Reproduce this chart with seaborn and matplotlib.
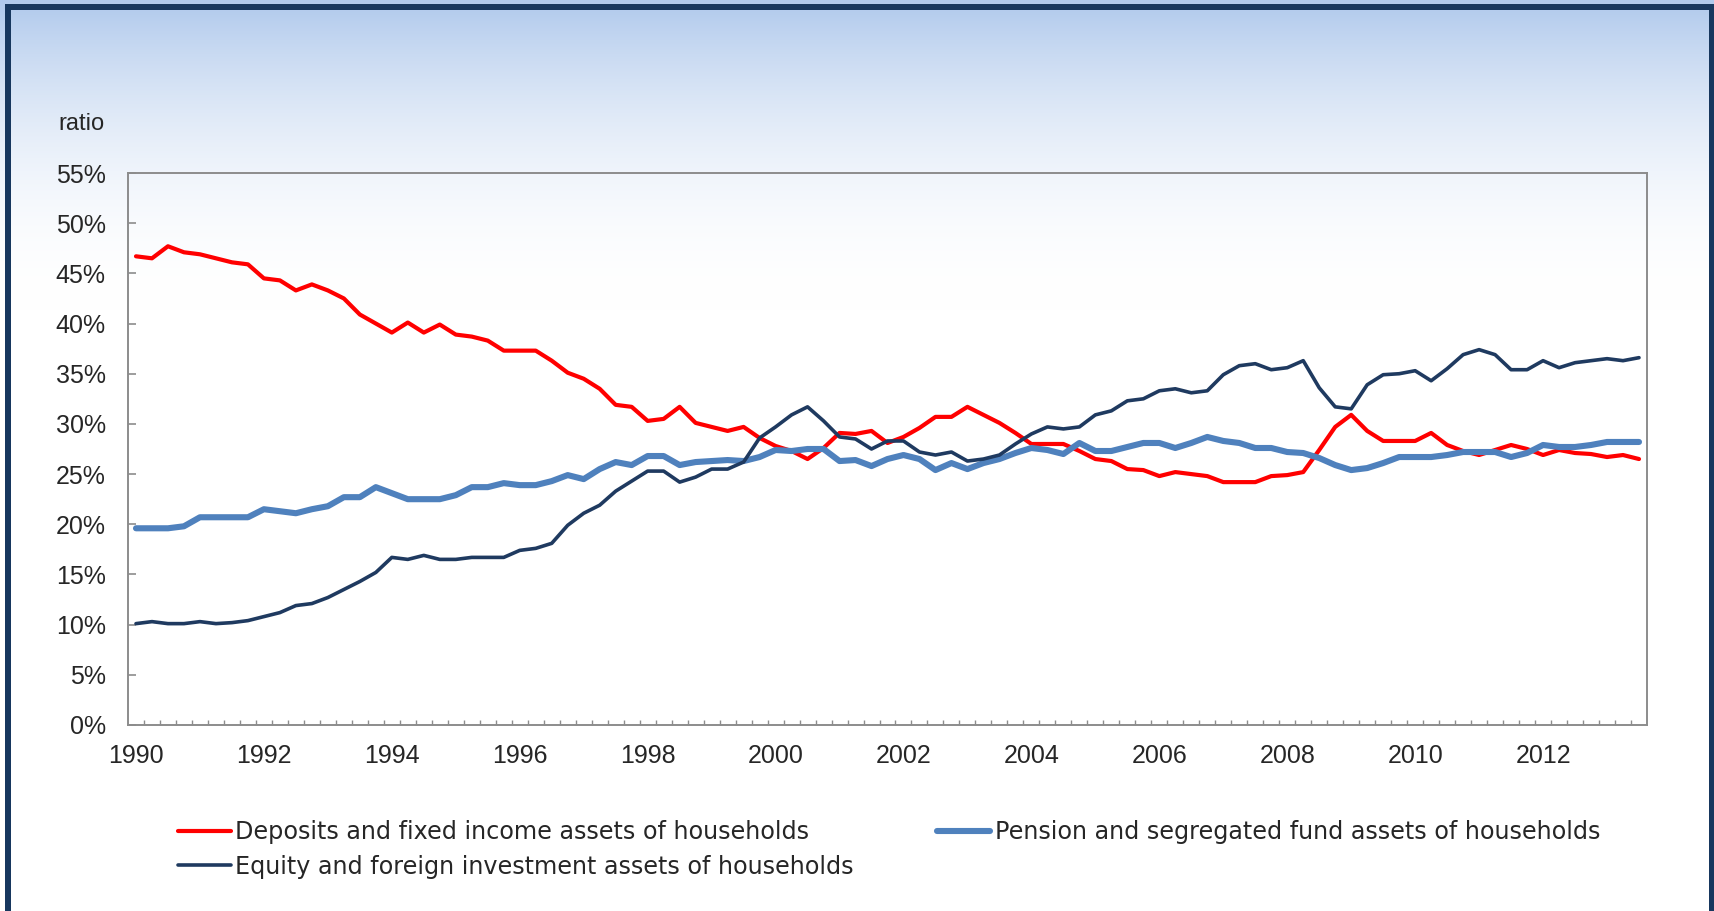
import matplotlib.pyplot as plt
import matplotlib.patches as mpatches
import matplotlib.ticker as mticker
import numpy as np
import pandas as pd
import seaborn as sns

# quarterly data, 1990Q1 .. 2013Q3 (percent of household assets)
start_year = 1990
deposits = [
    46.7, 46.5, 47.7, 47.1, 46.9, 46.5, 46.1, 45.9, 44.5, 44.3, 43.3, 43.9,
    43.3, 42.5, 40.9, 40.0, 39.1, 40.1, 39.1, 39.9, 38.9, 38.7, 38.3, 37.3,
    37.3, 37.3, 36.3, 35.1, 34.5, 33.5, 31.9, 31.7, 30.3, 30.5, 31.7, 30.1,
    29.7, 29.3, 29.7, 28.6, 27.8, 27.3, 26.5, 27.6, 29.1, 29.0, 29.3, 28.1,
    28.7, 29.6, 30.7, 30.7, 31.7, 30.9, 30.1, 29.1, 28.0, 28.0, 28.0, 27.3,
    26.5, 26.3, 25.5, 25.4, 24.8, 25.2, 25.0, 24.8, 24.2, 24.2, 24.2, 24.8,
    24.9, 25.2, 27.4, 29.7, 30.9, 29.3, 28.3, 28.3, 28.3, 29.1, 27.9, 27.3,
    26.9, 27.4, 27.9, 27.5, 26.9, 27.4, 27.1, 27.0, 26.7, 26.9, 26.5,
]
pension = [
    19.6, 19.6, 19.6, 19.8, 20.7, 20.7, 20.7, 20.7, 21.5, 21.3, 21.1, 21.5,
    21.8, 22.7, 22.7, 23.7, 23.1, 22.5, 22.5, 22.5, 22.9, 23.7, 23.7, 24.1,
    23.9, 23.9, 24.3, 24.9, 24.5, 25.5, 26.2, 25.9, 26.8, 26.8, 25.9, 26.2,
    26.3, 26.4, 26.3, 26.7, 27.4, 27.3, 27.5, 27.5, 26.3, 26.4, 25.8, 26.5,
    26.9, 26.5, 25.4, 26.1, 25.5, 26.1, 26.5, 27.1, 27.6, 27.4, 27.0, 28.1,
    27.3, 27.3, 27.7, 28.1, 28.1, 27.6, 28.1, 28.7, 28.3, 28.1, 27.6, 27.6,
    27.2, 27.1, 26.6, 25.9, 25.4, 25.6, 26.1, 26.7, 26.7, 26.7, 26.9, 27.2,
    27.2, 27.2, 26.7, 27.1, 27.9, 27.7, 27.7, 27.9, 28.2, 28.2, 28.2,
]
equity = [
    10.1, 10.3, 10.1, 10.1, 10.3, 10.1, 10.2, 10.4, 10.8, 11.2, 11.9, 12.1,
    12.7, 13.5, 14.3, 15.2, 16.7, 16.5, 16.9, 16.5, 16.5, 16.7, 16.7, 16.7,
    17.4, 17.6, 18.1, 19.9, 21.1, 21.9, 23.3, 24.3, 25.3, 25.3, 24.2, 24.7,
    25.5, 25.5, 26.2, 28.6, 29.7, 30.9, 31.7, 30.3, 28.7, 28.5, 27.5, 28.3,
    28.3, 27.2, 26.9, 27.2, 26.3, 26.5, 26.9, 28.0, 29.0, 29.7, 29.5, 29.7,
    30.9, 31.3, 32.3, 32.5, 33.3, 33.5, 33.1, 33.3, 34.9, 35.8, 36.0, 35.4,
    35.6, 36.3, 33.6, 31.7, 31.5, 33.9, 34.9, 35.0, 35.3, 34.3, 35.5, 36.9,
    37.4, 36.9, 35.4, 35.4, 36.3, 35.6, 36.1, 36.3, 36.5, 36.3, 36.6,
]
labels = [
    "Deposits and fixed income assets of households",
    "Pension and segregated fund assets of households",
    "Equity and foreign investment assets of households",
]
year_ticks = list(range(1990, 2013, 2))
y_ticks = list(range(0, 56, 5))

W, H = 1715, 911
navy = "#17375E"

sns.set_style("white")
plt.rcParams["font.family"] = ["Liberation Sans", "DejaVu Sans"]

quarters = start_year + np.arange(len(deposits)) / 4
df = pd.DataFrame({"t": quarters, "dep": deposits, "pen": pension, "eq": equity})

fig = plt.figure(figsize=(W / 100, H / 100), dpi=100)

# gradient background, light blue at the top fading to white
bg = fig.add_axes([0, 0, 1, 1], zorder=-5)
top = np.array([0xB0, 0xC9, 0xEC]) / 255
f = np.clip(np.arange(H) / 310.0, 0, 1)
f = (1 - (1 - f) ** 2)[:, None]
grad = top * (1 - f) + f
bg.imshow(grad[:, None, :], aspect="auto", extent=[0, 1, 0, 1])
bg.set_axis_off()

ax = fig.add_axes([128 / W, 1 - 725 / H, 1519 / W, 552 / H])
ax.set_facecolor("none")

sns.lineplot(data=df, x="t", y="dep", ax=ax, color="#FF0000", linewidth=3.0, label=labels[0])
sns.lineplot(data=df, x="t", y="pen", ax=ax, color="#4F81BD", linewidth=4.4, label=labels[1],
             solid_capstyle="round")
sns.lineplot(data=df, x="t", y="eq", ax=ax, color="#1F3A60", linewidth=2.6, label=labels[2])

ax.set_xlim(start_year - 0.125, start_year + (len(deposits) - 0.5) / 4)
ax.set_ylim(0, 55)
ax.set_xticks(year_ticks)
ax.set_xticklabels([str(y) for y in year_ticks])
ax.xaxis.set_minor_locator(mticker.FixedLocator(
    start_year - 0.125 + np.arange(1, len(deposits)) / 4))
ax.set_yticks(y_ticks)
ax.yaxis.set_major_formatter(mticker.PercentFormatter(decimals=0))
ax.set_xlabel("")
ax.set_ylabel("")

for s in ax.spines.values():
    s.set_color("#8C8C8C")
    s.set_linewidth(1.4)
ax.tick_params(axis="y", which="major", direction="in", length=5.5, width=1.2,
               color="#8C8C8C", labelsize=18, pad=16, left=True)
ax.tick_params(axis="x", which="major", direction="in", length=0, labelsize=18, pad=14,
               bottom=True)
ax.tick_params(axis="x", which="minor", direction="in", length=3.4, width=1.0,
               color="#8C8C8C", bottom=True)

fig.text(81 / W, 1 - 124 / H, "ratio", ha="center", va="center", fontsize=17)

handles, labs = ax.get_legend_handles_labels()
ax.get_legend().remove()
order = [0, 2, 1]
fig.legend([handles[i] for i in order], [labs[i] for i in order],
           loc="upper left", bbox_to_anchor=(178 / W, 1 - 820 / H), ncol=2,
           frameon=False, prop={"family": ["DejaVu Sans"], "size": 17.2},
           handlelength=2.2, handletextpad=0.2, columnspacing=3.5,
           labelspacing=0.45, borderpad=0, borderaxespad=0)

# dark frame around the whole chart
fig.add_artist(mpatches.Rectangle((8 / W, 1 - 914 / H), 1704 / W, 907 / H,
                                  transform=fig.transFigure, fill=False,
                                  edgecolor=navy, linewidth=6 * 0.72))

fig.savefig("out.png", dpi=100)
